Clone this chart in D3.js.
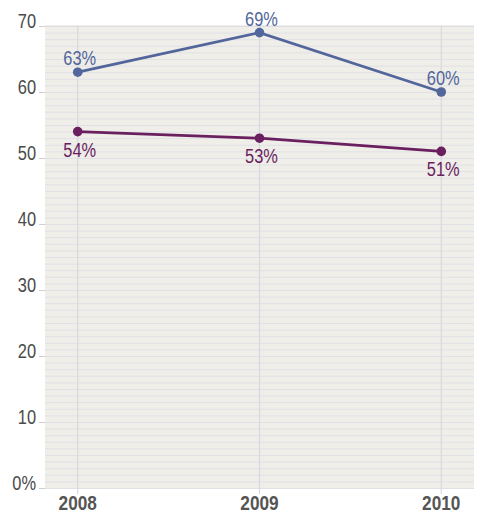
<!DOCTYPE html>
<html>
<head>
<meta charset="utf-8">
<script src="https://cdn.jsdelivr.net/npm/d3@7"></script>
<style>
  body { margin: 0; background: #fff; }
  svg text { font-family: "Liberation Sans Narrow", "Liberation Sans", Arial, sans-serif; }
</style>
</head>
<body>
<div id="chart"></div>
<script>
// Data
const years = [2008, 2009, 2010];
const seriesTop = [63, 69, 60];     // upper line (blue)
const seriesBottom = [54, 53, 51];  // lower line (purple)
const yTicks = [0, 10, 20, 30, 40, 50, 60, 70];

const width = 481;
const height = 514;
const margin = { top: 26, right: 7, bottom: 26, left: 45 };

const svg = d3.select("#chart")
  .append("svg")
  .attr("width", width)
  .attr("height", height);

// no narrow font installed: squeeze the glyphs horizontally
function condense(sel, k = 0.82) {
  sel.each(function () {
    const len = this.getComputedTextLength();
    if (len > 0) {
      d3.select(this)
        .attr("textLength", len * k)
        .attr("lengthAdjust", "spacingAndGlyphs");
    }
  });
}

const x = d3.scalePoint()
  .domain(years)
  .range([margin.left, width - margin.right])
  .padding(0.18);

const y = d3.scaleLinear()
  .domain([0, 70])
  .range([height - margin.bottom, margin.top]);

// plot background
svg.append("rect")
  .attr("x", margin.left)
  .attr("y", margin.top)
  .attr("width", width - margin.left - margin.right)
  .attr("height", height - margin.top - margin.bottom)
  .attr("fill", "#f0eee8");

// horizontal gridlines, one per unit
svg.append("g")
  .attr("transform", `translate(${margin.left},0)`)
  .call(d3.axisLeft(y)
    .tickValues(d3.range(0, 71))
    .tickSize(-(width - margin.left - margin.right))
    .tickFormat(""))
  .call(g => g.select(".domain").remove())
  .call(g => g.selectAll("line").attr("stroke", "#e0e1e7").attr("stroke-width", 1));

// top border
svg.append("line")
  .attr("x1", margin.left).attr("x2", width - margin.right)
  .attr("y1", y(70)).attr("y2", y(70))
  .attr("stroke", "#dcdcdc");

// vertical gridlines at each year
svg.append("g")
  .selectAll("line")
  .data(years)
  .join("line")
  .attr("x1", d => x(d)).attr("x2", d => x(d))
  .attr("y1", margin.top).attr("y2", height - margin.bottom + 6)
  .attr("stroke", "#d8d9de")
  .attr("stroke-width", 1.2);

// y axis labels
svg.append("g")
  .attr("transform", `translate(${margin.left},0)`)
  .call(d3.axisLeft(y)
    .tickValues(yTicks)
    .tickSize(6)
    .tickPadding(3)
    .tickFormat(d => d === 0 ? "0%" : d))
  .call(g => g.select(".domain").remove())
  .call(g => g.selectAll("line").attr("stroke", "#cfcfcf"))
  .call(g => g.selectAll("text")
    .attr("fill", "#4a4a4a")
    .attr("font-size", 20)
    .attr("dy", 1)
    .style("font-family", "'Liberation Sans Narrow', 'Liberation Sans', Arial, sans-serif")
    .call(condense));

// x axis labels
svg.append("g")
  .selectAll("text")
  .data(years)
  .join("text")
  .attr("x", d => x(d))
  .attr("y", height - 4)
  .attr("text-anchor", "middle")
  .attr("font-size", 21)
  .attr("font-weight", "bold")
  .attr("fill", "#555")
  .text(d => d)
  .call(condense);

const line = d3.line()
  .x(d => x(d.year))
  .y(d => y(d.value));

function drawSeries(values, color, above) {
  const pts = years.map((yr, i) => ({ year: yr, value: values[i] }));
  svg.append("path")
    .datum(pts)
    .attr("fill", "none")
    .attr("stroke", color)
    .attr("stroke-width", 2.8)
    .attr("d", line);
  svg.append("g")
    .selectAll("circle")
    .data(pts)
    .join("circle")
    .attr("cx", d => x(d.year))
    .attr("cy", d => y(d.value))
    .attr("r", 4.8)
    .attr("fill", color);
  svg.append("g")
    .selectAll("text")
    .data(pts)
    .join("text")
    .attr("x", d => x(d.year) + 2)
    .attr("y", d => y(d.value) + (above ? -7 : 25))
    .attr("text-anchor", "middle")
    .attr("font-size", 20)
    .attr("fill", color)
    .text(d => d.value + "%")
    .call(condense);
}

drawSeries(seriesTop, "#52669c", true);
drawSeries(seriesBottom, "#6a1f5f", false);
</script>
</body>
</html>
